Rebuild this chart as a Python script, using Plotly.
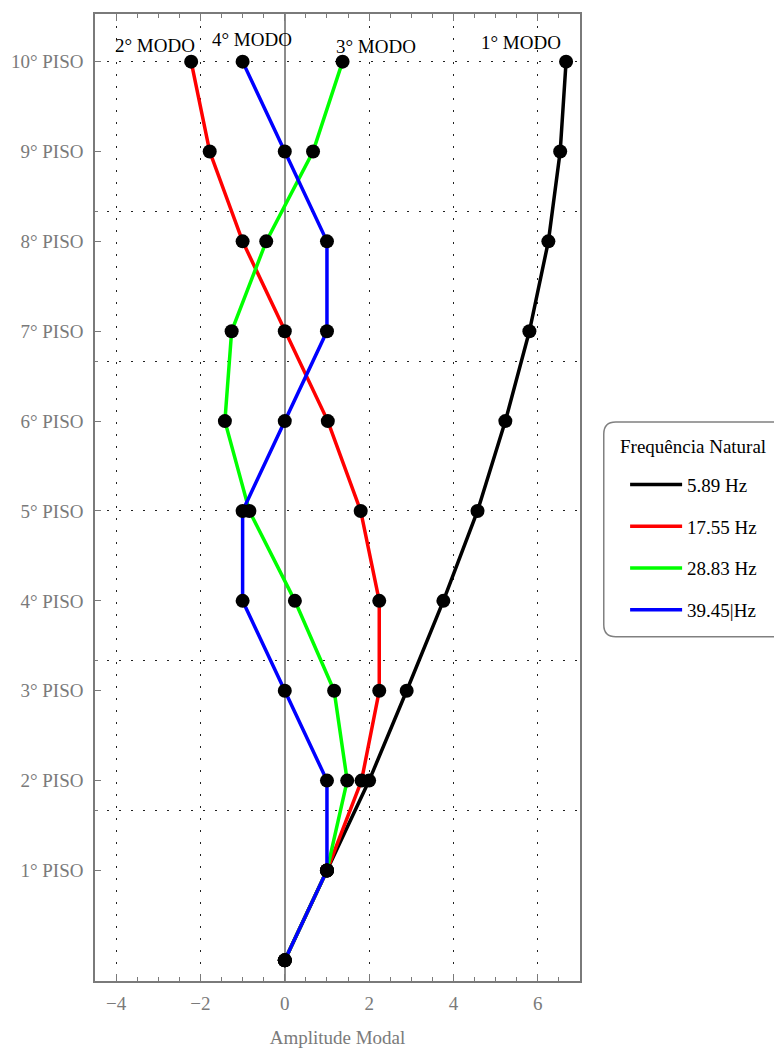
import plotly.graph_objects as go

# Pavimentos (0 = base) e amplitudes modais normalizadas de cada modo
pisos = list(range(11))
piso_labels = [f"{i}° PISO" for i in range(1, 11)]

modo1 = [0, 1.0, 2.0, 2.89, 3.76, 4.57, 5.23, 5.80, 6.25, 6.53, 6.67]
modo2 = [0, 1.0, 1.82, 2.24, 2.24, 1.80, 1.02, 0.0, -1.0, -1.78, -2.22]
modo3 = [0, 1.0, 1.48, 1.17, 0.24, -0.84, -1.42, -1.26, -0.44, 0.67, 1.37]
modo4 = [0, 1.0, 1.0, 0.0, -1.0, -1.0, 0.0, 1.0, 1.0, 0.0, -1.0]

frequencias = ["5.89 Hz", "17.55 Hz", "28.83 Hz", "39.45|Hz"]
cores = ["#000000", "#ff0000", "#00ff00", "#0000ff"]
modos = [modo1, modo2, modo3, modo4]

# Rótulos dos modos: (texto, x, y) em coordenadas de dados
rotulos = [
    ("2° MODO", -3.08, 10.18),
    ("4° MODO", -0.77, 10.25),
    ("3° MODO", 2.17, 10.17),
    ("1° MODO", 5.6, 10.21),
]

FONT = "Liberation Serif"
FS = 19
GRAY = "#7a7a7a"

fig = go.Figure()

# Linhas de cada modo
for i, (vals, nome, cor) in enumerate(zip(modos, frequencias, cores)):
    fig.add_trace(go.Scatter(
        x=vals, y=pisos, mode="lines", name=nome,
        line=dict(color=cor, width=3.5),
        legendgroup=f"g{i}", hoverinfo="skip",
    ))

# Pontos sobre todas as linhas
for vals in modos:
    fig.add_trace(go.Scatter(
        x=vals, y=pisos, mode="markers", showlegend=False,
        marker=dict(color="black", size=14), hoverinfo="skip",
    ))

for texto, x, y in rotulos:
    fig.add_annotation(x=x, y=y, text=texto, showarrow=False,
                       font=dict(family=FONT, size=FS, color="black"))

# Moldura arredondada da legenda e seu título
x0, x1, y0, y1 = 1.049, 1.45, 0.356, 0.578
rx, ry = 12 / 485, 12 / 967.5
path = (f"M {x0 + rx},{y1} L {x1 - rx},{y1} Q {x1},{y1} {x1},{y1 - ry} "
        f"L {x1},{y0 + ry} Q {x1},{y0} {x1 - rx},{y0} "
        f"L {x0 + rx},{y0} Q {x0},{y0} {x0},{y0 + ry} "
        f"L {x0},{y1 - ry} Q {x0},{y1} {x0 + rx},{y1} Z")
fig.add_shape(type="path", path=path, xref="paper", yref="paper",
              line=dict(color="#808080", width=1.5), fillcolor="white",
              layer="below")
fig.add_annotation(x=1.078, y=(981.5 - 447) / 967.5, xref="paper", yref="paper",
                   xanchor="left", yanchor="middle", showarrow=False,
                   text="Frequência Natural",
                   font=dict(family=FONT, size=FS, color="black"))

fig.update_layout(
    width=774, height=1048,
    margin=dict(l=95, r=194, t=14, b=67, autoexpand=False),
    plot_bgcolor="white", paper_bgcolor="white",
    font=dict(family=FONT, size=FS, color=GRAY),
    showlegend=True,
    legend=dict(
        x=1.093, y=(981.5 - 466) / 967.5, xanchor="left", yanchor="top",
        bgcolor="rgba(0,0,0,0)", borderwidth=0,
        font=dict(family=FONT, size=FS, color="black"),
        tracegroupgap=14, itemwidth=52,
    ),
    xaxis=dict(
        range=[-4.5, 7], automargin=False,
        tickvals=[-4, -2, 0, 2, 4, 6],
        ticktext=["\u22124", "\u22122", "0", "2", "4", "6"],
        ticks="inside", ticklen=7, tickcolor=GRAY, tickwidth=1.2,
        minor=dict(dtick=0.5, ticks="inside", ticklen=4,
                   tickcolor=GRAY, showgrid=False),
        showline=True, linecolor=GRAY, linewidth=1.5, mirror="ticks",
        showgrid=True, gridcolor="#222222", gridwidth=1.3,
        griddash="2px,10px",
        zeroline=True, zerolinecolor="#8c8c8c", zerolinewidth=1.5,
        tickfont=dict(family=FONT, size=FS, color=GRAY),
        ticklabelstandoff=4,
        title=dict(text="Amplitude Modal", standoff=22,
                   font=dict(family=FONT, size=FS, color=GRAY)),
    ),
    yaxis=dict(
        range=[-0.23, 10.53], automargin=False,
        tickvals=list(range(1, 11)), ticktext=piso_labels,
        ticks="inside", ticklen=6, tickcolor=GRAY, tickwidth=1.2,
        minor=dict(tickmode="array",
                   tickvals=[5 / 3 * k for k in range(1, 7)],
                   ticks="inside", ticklen=3, tickcolor=GRAY,
                   showgrid=True, gridcolor="#222222", gridwidth=1.3,
                   griddash="2px,10px"),
        showline=True, linecolor=GRAY, linewidth=1.5, mirror=True,
        showgrid=False, zeroline=False,
        tickfont=dict(family=FONT, size=FS, color=GRAY),
        ticklabelstandoff=6,
    ),
)

fig.write_html("out.html")
